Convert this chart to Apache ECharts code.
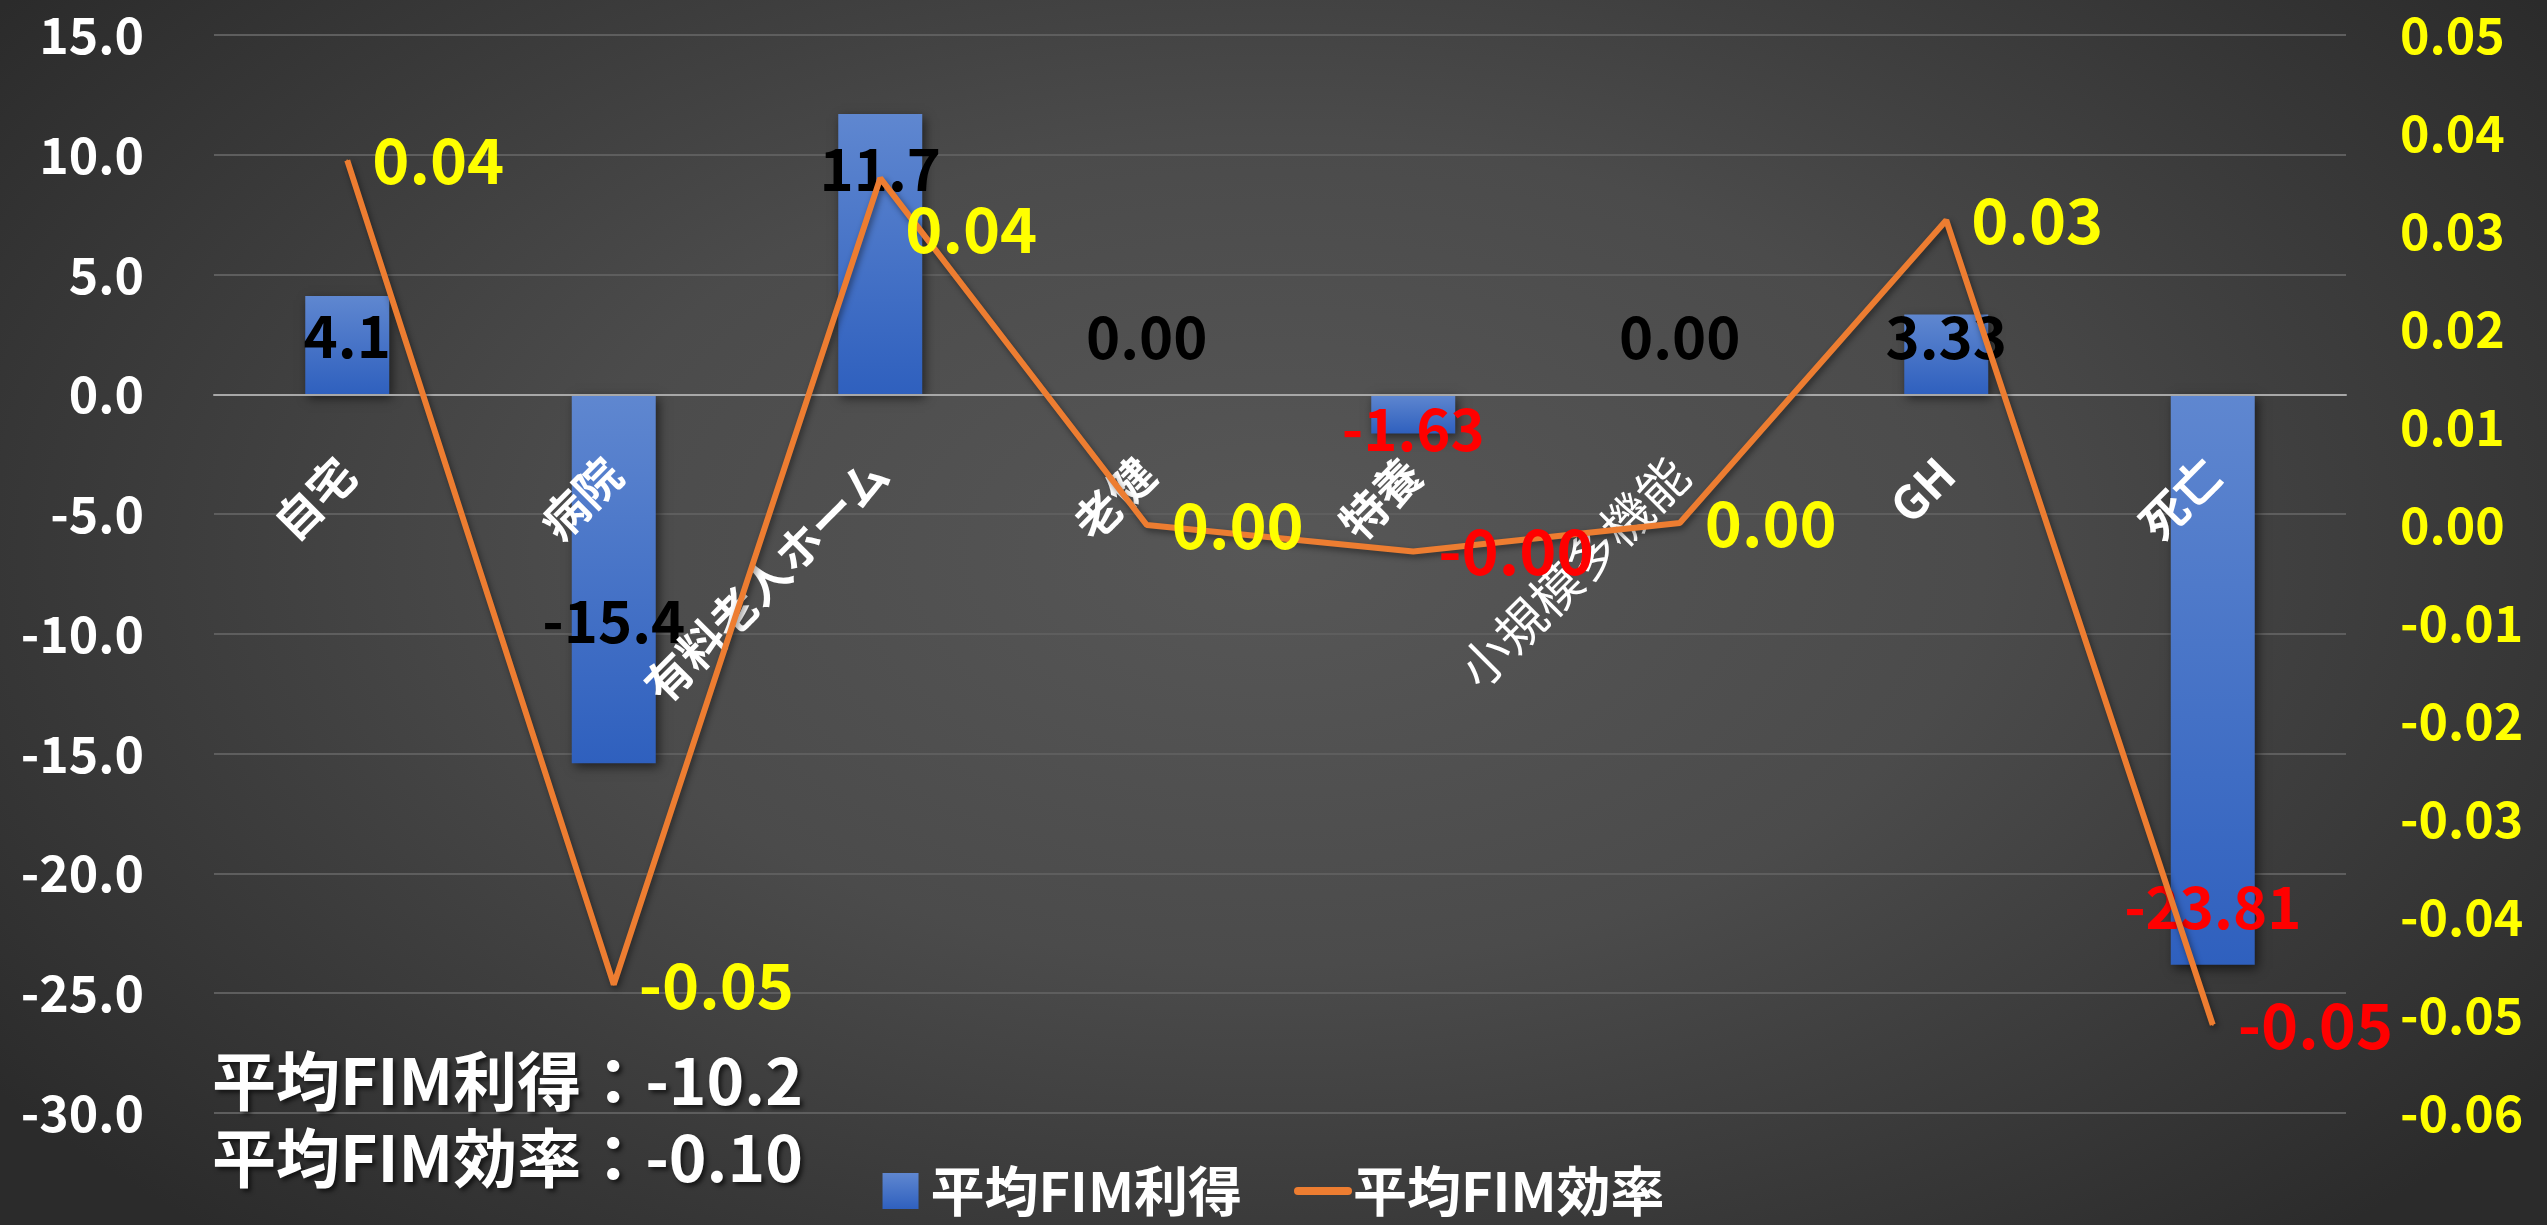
<!DOCTYPE html>
<html><head><meta charset="utf-8">
<script src="https://cdn.jsdelivr.net/npm/echarts@6/dist/echarts.min.js"></script>
<style>
html,body{margin:0;padding:0;width:2547px;height:1225px;overflow:hidden;}
body{background: radial-gradient(ellipse 62% 75% at 50% 45%, #575757 0%, #4b4b4b 45%, #2b2b2b 100%);}
#c{width:2547px;height:1225px;}
</style></head><body><div id="c"></div>
<script>
// ---- data ----
const categories = ['自宅','病院','有料老人ホーム','老健','特養','小規模多機能','GH','死亡'];
const fimGain = [4.1, -15.4, 11.7, 0, -1.63, 0, 3.33, -23.81];
const fimGainLabels = ['4.1','-15.4','11.7','0.00','-1.63','0.00','3.33','-23.81'];
const fimEfficiency = [0.0372, -0.0469, 0.0354, 0.0, -0.0027, 0.0002, 0.0311, -0.0510];
const leftMin = -30, leftMax = 15, leftInterval = 5;
const rightMin = -0.06, rightMax = 0.05, rightInterval = 0.01;
const seriesNames = ['平均FIM利得','平均FIM効率'];
const summaryLines = ['平均FIM利得：-10.2','平均FIM効率：-0.10'];

// ---- styles ----
const FONT = '"Noto Sans CJK JP", "Noto Sans", sans-serif';
const gainLabelColors = ['#000','#000','#000','#000','#ff0000','#000','#000','#ff0000'];
const gainLabelShift = [-9, 42, -85, -57, 15, -57, -17, 227];
const effLabelColors = ['#ffff00','#ffff00','#ffff00','#ffff00','#ff0000','#ffff00','#ffff00','#ff0000'];
const effLabelShift = [[0,0],[0,0],[0,51],[0,0],[0,0],[0,0],[0,0],[0,0]];
const catWeights = ['bold','bold','bold','bold','bold','normal','bold','bold'];
const catSizes = [46,46,46,46,46,50,46,46];

const chart = echarts.init(document.getElementById('c'), null, {renderer:'canvas'});

const barData = fimGain.map((v,i)=>({
  value: v,
  label: { color: gainLabelColors[i], offset: [0, gainLabelShift[i]], formatter: fimGainLabels[i] }
}));
const lineData = fimEfficiency.map((v,i)=>({
  value: v,
  label: { color: effLabelColors[i], offset: effLabelShift[i] }
}));

const option = {
  backgroundColor: 'transparent',
  textStyle: { fontFamily: FONT },
  grid: { left: 214, right: 201, top: 35, bottom: 112, containLabel: false, outerBoundsMode: 'none' },
  legend: {
    data: [
      { name: seriesNames[0], icon: 'path://M0,0h10v10h-10z' },
      { name: seriesNames[1], icon: 'path://M4,0h50a4,4 0 0 1 0,8h-50a4,4 0 0 1 0,-8z' }
    ],
    bottom: 2,
    left: 'center',
    itemWidth: 58,
    itemHeight: 36,
    itemGap: 52,
    symbolKeepAspect: true,
    textStyle: { color: '#fff', fontSize: 54, fontWeight: 'bold', fontFamily: FONT, padding:[0,0,0,-4] }
  },
  xAxis: {
    type: 'category',
    data: categories.map((c,i)=>({ value: c, textStyle: { fontWeight: catWeights[i], fontSize: catSizes[i] } })),
    axisLine: { onZero: true, onZeroAxisIndex: 0, lineStyle: { color: '#a8a8a8', width: 2 } },
    axisTick: { show: false },
    axisLabel: { interval: 0, rotate: 45, margin: -647, color: '#fff', fontSize: 46, fontFamily: FONT },
    splitLine: { show: false },
    z: 3
  },
  yAxis: [
    {
      type: 'value', min: leftMin, max: leftMax, interval: leftInterval,
      axisLine: { show: false }, axisTick: { show: false },
      axisLabel: { formatter: v => v.toFixed(1), color: '#fff', fontSize: 50, fontWeight: 'bold', margin: 70, fontFamily: FONT },
      splitLine: { lineStyle: { color: '#5e5e5e', width: 2 } }
    },
    {
      type: 'value', min: rightMin, max: rightMax, interval: rightInterval,
      axisLine: { show: false }, axisTick: { show: false },
      axisLabel: { formatter: v => v.toFixed(2), color: '#ffff00', fontSize: 50, fontWeight: 'bold', margin: 54, fontFamily: FONT },
      splitLine: { show: false }
    }
  ],
  series: [
    {
      name: seriesNames[0], type: 'bar', yAxisIndex: 0,
      data: barData,
      barWidth: 84,
      itemStyle: {
        color: new echarts.graphic.LinearGradient(0,0,0,1,[{offset:0,color:'#5f87d0'},{offset:1,color:'#2f60be'}]),
        shadowColor: 'rgba(0,0,0,0.55)', shadowBlur: 10, shadowOffsetX: 3, shadowOffsetY: 4
      },
      label: { show: true, position: 'inside', fontSize: 58, fontWeight: 'bold', fontFamily: FONT },
      z: 2
    },
    {
      name: seriesNames[1], type: 'line', yAxisIndex: 1,
      data: lineData,
      symbol: 'circle', symbolSize: 2, showSymbol: true,
      lineStyle: { color: '#ed7d31', width: 6, shadowColor: 'rgba(0,0,0,0.45)', shadowBlur: 6, shadowOffsetX: 2, shadowOffsetY: 3 },
      itemStyle: { color: '#ed7d31' },
      label: { show: true, position: 'right', distance: 24, fontSize: 63, fontWeight: 'bold', fontFamily: FONT,
               formatter: p => p.value.toFixed(2) },
      z: 4
    }
  ],
  graphic: summaryLines.map((t,i)=>({
    type: 'text', x: 212, y: 1081 + i*77, z: 10,
    style: { text: t, fill: '#fff', font: 'bold 64px ' + FONT, verticalAlign: 'middle',
             textShadowColor: 'rgba(0,0,0,0.6)', textShadowBlur: 4, textShadowOffsetX: 3, textShadowOffsetY: 3 }
  }))
};
chart.setOption(option);
</script></body></html>
